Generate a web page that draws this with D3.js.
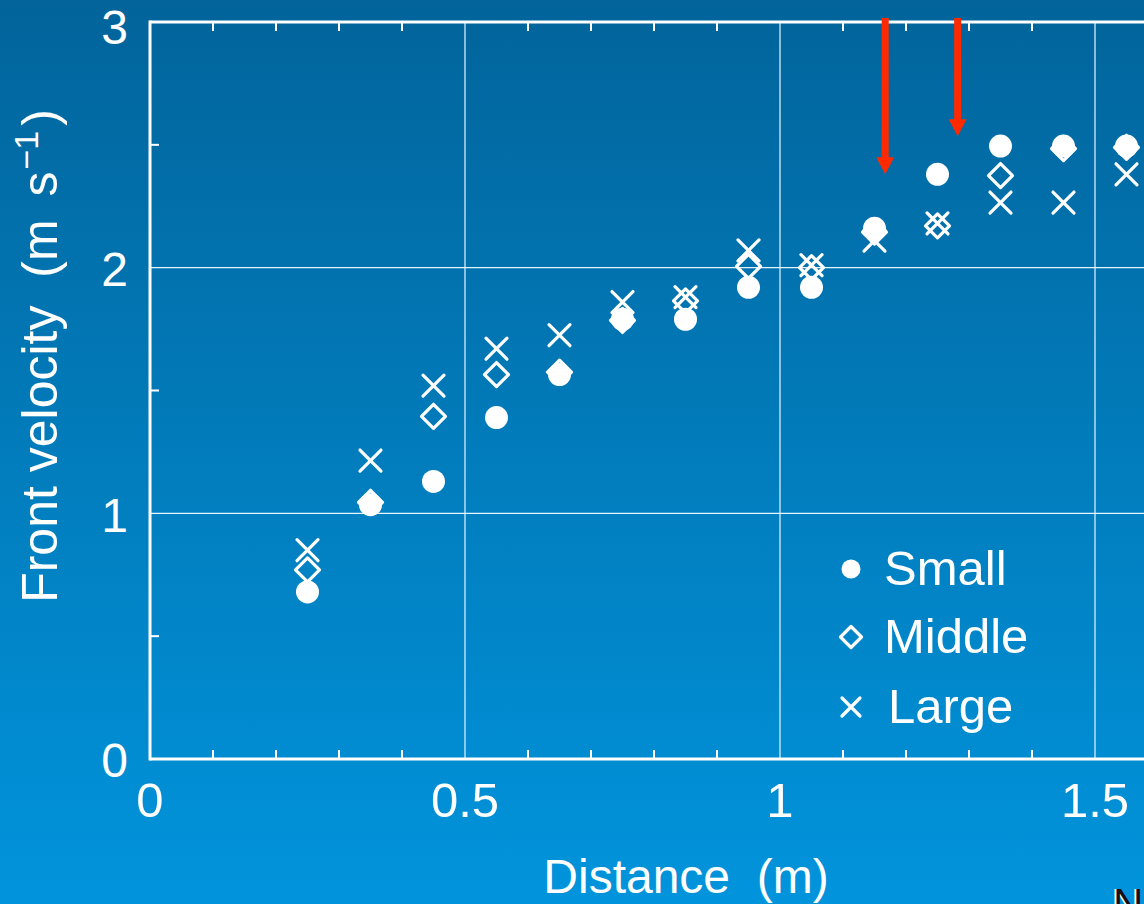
<!DOCTYPE html>
<html>
<head>
<meta charset="utf-8">
<script src="https://cdn.jsdelivr.net/npm/d3@7"></script>
<style>
  html, body { margin: 0; padding: 0; overflow: hidden; }
  svg { display: block; font-family: "Liberation Sans", Arial, Helvetica, sans-serif; }
</style>
</head>
<body>
<div id="chart"></div>
<script>
"use strict";

// distance along the tank (m)
const distances = [0.25, 0.35, 0.45, 0.55, 0.65, 0.75, 0.85, 0.95, 1.05, 1.15, 1.25, 1.35, 1.45, 1.55];

// front velocity (m/s) for each current size
const smallVel  = [0.68, 1.035, 1.13, 1.39, 1.565, 1.79, 1.79, 1.92, 1.92, 2.16, 2.38, 2.495, 2.495, 2.495];
const middleVel = [0.77, 1.045, 1.395, 1.565, 1.575, 1.785, 1.865, 2.005, 2.0, 2.145, 2.17, 2.375, 2.485, 2.49];
const largeVel  = [0.85, 1.215, 1.52, 1.67, 1.725, 1.86, 1.88, 2.07, 2.01, 2.11, 2.18, 2.265, 2.265, 2.38];

const seriesNames = ["Small", "Middle", "Large"];

// red arrows marking the two transition points
const arrowX = [1.167, 1.282];
const arrowTip = [2.38, 2.535];

const xMajor = [0, 0.5, 1, 1.5];
const yMajor = [0, 1, 2, 3];

const W = 1144, H = 904;

const svg = d3.select("#chart")
  .append("svg")
  .attr("width", W)
  .attr("height", H);

// background gradient
const defs = svg.append("defs");
const grad = defs.append("linearGradient")
  .attr("id", "bg")
  .attr("x1", 0).attr("y1", 0).attr("x2", 0).attr("y2", 1);
grad.append("stop").attr("offset", "0%").attr("stop-color", "#02649b");
grad.append("stop").attr("offset", "100%").attr("stop-color", "#0194dc");

svg.append("rect")
  .attr("width", W)
  .attr("height", H)
  .attr("fill", "url(#bg)");

const x = d3.scaleLinear().domain([0, 1.5]).range([150, 1095]);
const y = d3.scaleLinear().domain([0, 3]).range([759, 22]);
const xEnd = 1160; // plot runs off the right edge

const xMinor = d3.range(1, 16).map(i => i / 10).filter(v => Math.round(v * 10) % 5 !== 0);
const yMinor = [0.5, 1.5, 2.5];

// grid lines
svg.append("g")
  .selectAll("line.vgrid")
  .data(xMajor.filter(v => v > 0))
  .enter()
  .append("line")
  .attr("x1", d => x(d)).attr("x2", d => x(d))
  .attr("y1", y(3)).attr("y2", y(0))
  .attr("stroke", "#d6ecf8")
  .attr("stroke-width", 1.3);

svg.append("g")
  .selectAll("line.hgrid")
  .data(yMajor.filter(v => v > 0 && v < 3))
  .enter()
  .append("line")
  .attr("x1", x(0)).attr("x2", xEnd)
  .attr("y1", d => y(d)).attr("y2", d => y(d))
  .attr("stroke", "#e6f4fc")
  .attr("stroke-width", 1.3);

// minor ticks (inward), bottom and top
const tickG = svg.append("g").attr("stroke", "white").attr("stroke-width", 2);
tickG.selectAll("line.bt")
  .data(xMinor)
  .enter()
  .append("line")
  .attr("x1", d => x(d)).attr("x2", d => x(d))
  .attr("y1", y(0)).attr("y2", y(0) - 9);
tickG.selectAll("line.tt")
  .data(xMinor)
  .enter()
  .append("line")
  .attr("x1", d => x(d)).attr("x2", d => x(d))
  .attr("y1", y(3)).attr("y2", y(3) + 9);
tickG.selectAll("line.lt")
  .data(yMinor)
  .enter()
  .append("line")
  .attr("x1", x(0)).attr("x2", x(0) + 9)
  .attr("y1", d => y(d)).attr("y2", d => y(d));

// axis frame
const frame = svg.append("g").attr("stroke", "white").attr("stroke-width", 3).attr("fill", "none");
frame.append("line").attr("x1", x(0)).attr("x2", x(0)).attr("y1", y(3) - 1.5).attr("y2", y(0) + 1.5);
frame.append("line").attr("x1", x(0)).attr("x2", xEnd).attr("y1", y(0)).attr("y2", y(0));
frame.append("line").attr("x1", x(0)).attr("x2", xEnd).attr("y1", y(3)).attr("y2", y(3));

// tick labels
svg.append("g")
  .selectAll("text")
  .data(yMajor)
  .enter()
  .append("text")
  .attr("x", 128)
  .attr("y", d => y(d))
  .attr("dy", d => d === 3 ? "0.46em" : "0.38em")
  .attr("text-anchor", "end")
  .attr("fill", "white")
  .attr("font-size", 48)
  .text(d => d3.format("")(d));

svg.append("g")
  .selectAll("text")
  .data(xMajor)
  .enter()
  .append("text")
  .attr("x", d => x(d))
  .attr("y", 817)
  .attr("text-anchor", "middle")
  .attr("fill", "white")
  .attr("font-size", 49)
  .text(d => String(d));

// axis titles
svg.append("text")
  .attr("x", 686)
  .attr("y", 893)
  .attr("text-anchor", "middle")
  .attr("fill", "white")
  .attr("font-size", 48)
  .attr("xml:space", "preserve")
  .text("Distance  (m)");

const yTitle = svg.append("text")
  .attr("transform", "translate(57,356) rotate(-90)")
  .attr("text-anchor", "middle")
  .attr("fill", "white")
  .attr("font-size", 50)
  .attr("xml:space", "preserve");
yTitle.append("tspan").text("Front velocity  (m");
yTitle.append("tspan").attr("dx", 9).text(" s");
yTitle.append("tspan").attr("font-size", 34).attr("dx", 2).attr("dy", -19).text("\u22121");
yTitle.append("tspan").attr("dx", 5).attr("dy", 19).text(")");

// markers
const rows = distances.map((d, i) => ({ d, s: smallVel[i], m: middleVel[i], l: largeVel[i] }));

function drawCircle(g, cx, cy, r) {
  g.append("circle").attr("cx", cx).attr("cy", cy).attr("r", r).attr("fill", "white");
}
function drawDiamond(g, cx, cy, h) {
  g.append("path")
    .attr("d", `M${cx},${cy - h}L${cx + h},${cy}L${cx},${cy + h}L${cx - h},${cy}Z`)
    .attr("fill", "none")
    .attr("stroke", "white")
    .attr("stroke-width", 3.2)
    .attr("stroke-linejoin", "round");
}
function drawCross(g, cx, cy, h) {
  g.append("path")
    .attr("d", `M${cx - h},${cy - h}L${cx + h},${cy + h}M${cx - h},${cy + h}L${cx + h},${cy - h}`)
    .attr("stroke", "white")
    .attr("stroke-width", 3.2)
    .attr("stroke-linecap", "round");
}

const marks = svg.append("g");
rows.forEach(r => drawCircle(marks, x(r.d), y(r.s), 11.5));
rows.forEach(r => drawDiamond(marks, x(r.d), y(r.m), 12));
rows.forEach(r => drawCross(marks, x(r.d), y(r.l), 10.5));

// legend
const legend = svg.append("g");
const legY = [569, 637, 707];
drawCircle(legend, 851, legY[0], 9.5);
drawDiamond(legend, 851, legY[1], 10.5);
drawCross(legend, 851, legY[2], 9);
legend.selectAll("text")
  .data(seriesNames)
  .enter()
  .append("text")
  .attr("x", (d, i) => i === 2 ? 888 : 884)
  .attr("y", (d, i) => legY[i] + 16)
  .attr("fill", "white")
  .attr("font-size", 49)
  .text(d => d);

// arrows
const arrows = svg.append("g");
arrowX.forEach((ax, i) => {
  const px = x(ax), tip = y(arrowTip[i]);
  arrows.append("line")
    .attr("x1", px).attr("x2", px)
    .attr("y1", 18).attr("y2", tip - 14)
    .attr("stroke", "#ff2a00")
    .attr("stroke-width", 7);
  arrows.append("path")
    .attr("d", `M${px - 9},${tip - 17}L${px + 9},${tip - 17}L${px},${tip}Z`)
    .attr("fill", "#ff2a00");
});

// cut-off label at bottom right corner
svg.append("text").attr("x", 1111).attr("y", 918).attr("fill", "white").attr("font-size", 42).text("N");
svg.append("text").attr("x", 1113).attr("y", 918).attr("fill", "#111").attr("font-size", 42).text("N");
</script>
</body>
</html>
